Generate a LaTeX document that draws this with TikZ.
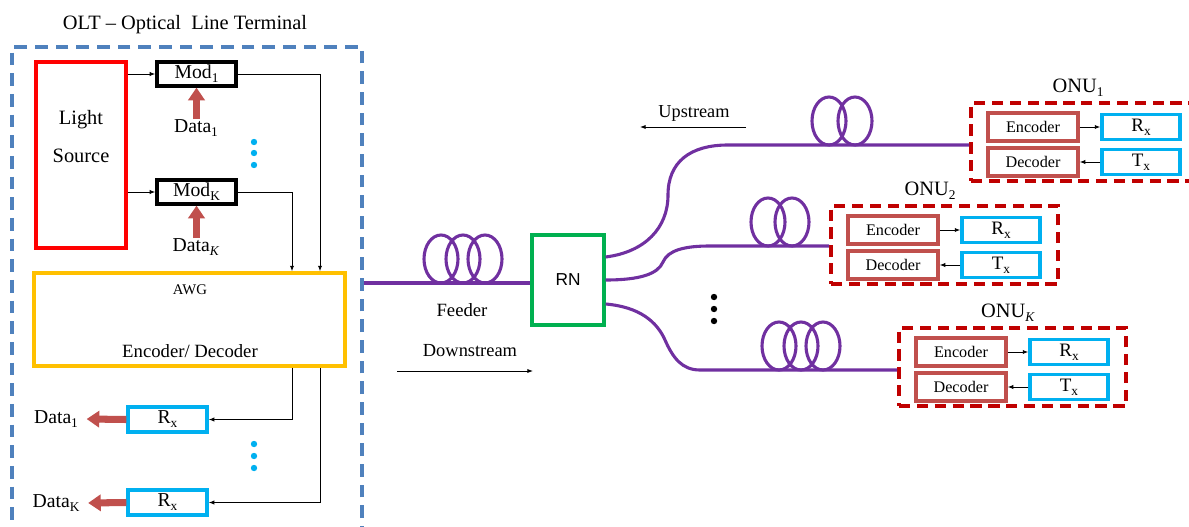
\documentclass[tikz,border=0pt]{standalone}
\usepackage{fontspec}
\setmainfont{Liberation Serif}
\newfontfamily\arialfont{Liberation Sans}
\usetikzlibrary{arrows.meta,positioning}
\definecolor{oltblue}{HTML}{4F81BD}
\definecolor{awgyel}{HTML}{FFC000}
\definecolor{rxcyan}{HTML}{00B0F0}
\definecolor{brick}{HTML}{C0504D}
\definecolor{fibre}{HTML}{7030A0}
\definecolor{rngreen}{HTML}{00B050}
\definecolor{onured}{HTML}{C00000}
\newcommand{\lowsub}[1]{\raisebox{-0.45ex}{\fontsize{9.5}{9.5}\selectfont #1}}
\tikzset{
  pon/.style={x=0.025cm, y=-0.025cm, >={Latex[length=4pt,width=3pt]}},
  box/.style={draw, line width=2.3pt, inner sep=0pt, font=\fontsize{14}{16}\selectfont},
  modbox/.style={box, minimum width=1.975cm, minimum height=0.6cm},
  rxbox/.style={box, draw=rxcyan, minimum width=1.975cm, minimum height=0.625cm},
  codbox/.style={box, draw=brick, minimum width=2.25cm, minimum height=0.7cm, font=\fontsize{11.5}{13}\selectfont},
  onurx/.style={box, draw=rxcyan, minimum width=1.95cm, minimum height=0.625cm, font=\fontsize{13.5}{15}\selectfont},
  oltbox/.style={draw=oltblue, line width=2.7pt, dash pattern=on 9pt off 5.7pt, minimum width=8.75cm, minimum height=12.325cm, inner sep=0pt},
  onubox/.style={draw=onured, line width=2.5pt, dash pattern=on 8pt off 4.7pt, minimum width=5.675cm, minimum height=1.95cm, inner sep=0pt},
  lbl/.style={inner sep=0pt, font=\fontsize{14}{16}\selectfont},
  sig/.style={->, line width=0.7pt},
  dat/.style={-{Triangle[length=9pt,width=11.5pt]}, brick, line width=5pt},
  fiber/.style={fibre, line width=2.2pt},
  vdot/.style={circle, fill=#1, inner sep=0pt, minimum size=0.16cm}
}

\begin{document}
\begin{tikzpicture}[pon]
\useasboundingbox (0,0) rectangle (1189,526);
\clip (0,0) rectangle (1189,526);
\node[lbl, font=\fontsize{14.5}{16}\selectfont] (olttitle) at (185,25) {OLT -- Optical\ \ Line Terminal};
\node[oltbox] (olt) at (187,293.5) {};
\node[box, draw=red, minimum width=2.25cm, minimum height=4.65cm] (light) at (81,155) {};
\node[lbl, align=center, font=\fontsize{14.5}{27}\selectfont] (lighttxt) at (81,137) {Light\\Source};
\node[modbox] (mod1) at (196.5,74) {Mod\lowsub{1}};
\node[modbox] (modk) at (196.5,192) {Mod\lowsub{K}};
\draw[sig] (light.east |- mod1) -- (mod1.west);
\draw[sig] (light.east |- modk) -- (modk.west);
\node[lbl] (din1) at (196,128) {Data\lowsub{1}};
\node[lbl] (dink) at (196,247) {Data\lowsub{\textit{K}}};
\draw[dat] (mod1.south |- din1.north) -- (mod1.south);
\draw[dat] (modk.south |- dink.north) -- (modk.south);
\foreach \y in {142,153,165} \node[vdot=rxcyan] (tdot\y) at (254,\y) {};
\node[box, draw=awgyel, minimum width=7.775cm, minimum height=2.325cm] (awg) at (189.5,319.5) {};
\node[lbl, font=\fontsize{10.5}{12}\selectfont] (awgtxt) at (190,290) {AWG};
\node[lbl, font=\fontsize{13.3}{15}\selectfont] (codtxt) at (190,351) {Encoder/ Decoder};
\coordinate (in1) at (awg.north -| 320,0);
\coordinate (ink) at (awg.north -| 292,0);
\draw[sig] (mod1.east) -| (in1);
\draw[sig] (modk.east) -| (ink);
\node[rxbox] (rx1) at (167.5,419.5) {R\lowsub{x}};
\node[rxbox] (rxk) at (167.5,502.5) {R\lowsub{x}};
\coordinate (out1) at (awg.south -| 292,0);
\coordinate (outk) at (awg.south -| 320,0);
\draw[sig] (out1) |- (rx1.east);
\draw[sig] (outk) |- (rxk.east);
\node[lbl] (dout1) at (56,419) {Data\lowsub{1}};
\node[lbl] (doutk) at (56,503) {Data\lowsub{K}};
\draw[dat] (rx1.west) -- ([xshift=6pt]dout1.east);
\draw[dat] (rxk.west) -- ([xshift=6pt]doutk.east);
\foreach \y in {444,456,468} \node[vdot=rxcyan] (bdot\y) at (254,\y) {};
\node[box, draw=rngreen, minimum width=1.8cm, minimum height=2.25cm, font=\arialfont\fontsize{12.3}{14}\selectfont] (rn) at (568,280) {RN};
\coordinate (fd) at (olt.east |- 0,283);
\draw[fiber] (fd) -- (fd -| rn.west);
\foreach \cx in {441,463,485} \draw[fiber] (\cx,259) ellipse [x radius=0.425cm, y radius=0.6cm];
\node[lbl, font=\fontsize{13.3}{15}\selectfont] (feedtxt) at (462,310) {Feeder};
\node[lbl, font=\fontsize{13.1}{15}\selectfont] (downtxt) at (470,351) {Downstream};
\coordinate (ds0) at (397,371);
\coordinate (ds1) at (533,371);
\draw[sig] (ds0) -- (ds1);
\node[lbl, font=\fontsize{13}{15}\selectfont] (uptxt) at (694,113) {Upstream};
\coordinate (us0) at (746,127);
\coordinate (us1) at (640,127);
\draw[sig] (us0) -- (us1);
\foreach \n/\bx/\by/\lx/\s in {1/971/103/1078/1, 2/831/206/930/2, k/899/328/1008/{\textit{K}}} {
  \node[onubox] (onu\n) at (\bx+113.5,\by+39) {};
  \node[lbl, font=\fontsize{14.5}{16}\selectfont] (onut\n) at (\lx,\by-15) {ONU\lowsub{\s}};
  \node[codbox] (enc\n) at (\bx+62,\by+24) {Encoder};
  \node[codbox] (dec\n) at (\bx+62,\by+59) {Decoder};
  \node[onurx] (orx\n) at (\bx+170,\by+24) {R\lowsub{x}};
  \node[onurx] (otx\n) at (\bx+170,\by+59) {T\lowsub{x}};
  \draw[sig] (enc\n) -- (orx\n);
  \draw[sig] (otx\n) -- (dec\n);
}
\draw[fiber] (rn.east |- 0,257) .. controls (645,252) and (668,228) .. (668,195) .. controls (668,162) and (690,145) .. (728,145) -- (onu1.west |- 0,145);
\draw[fiber] (rn.east) .. controls (640,280) and (658,274) .. (663,262) .. controls (668,250) and (685,246) .. (710,246) -- (onu2.west |- 0,246);
\draw[fiber] (rn.east |- 0,304) .. controls (640,307) and (657,322) .. (665,340) .. controls (673,358) and (682,370) .. (700,370) -- (onuk.west |- 0,370);
\foreach \cx in {829,855} \draw[fiber] (\cx,121) ellipse [x radius=0.425cm, y radius=0.6cm];
\foreach \cx in {768,792} \draw[fiber] (\cx,222) ellipse [x radius=0.425cm, y radius=0.6cm];
\foreach \cx in {779,801,823} \draw[fiber] (\cx,346) ellipse [x radius=0.425cm, y radius=0.6cm];
\foreach \y in {297,309,321} \node[vdot=black] (kdot\y) at (714,\y) {};
\end{tikzpicture}
\end{document}
